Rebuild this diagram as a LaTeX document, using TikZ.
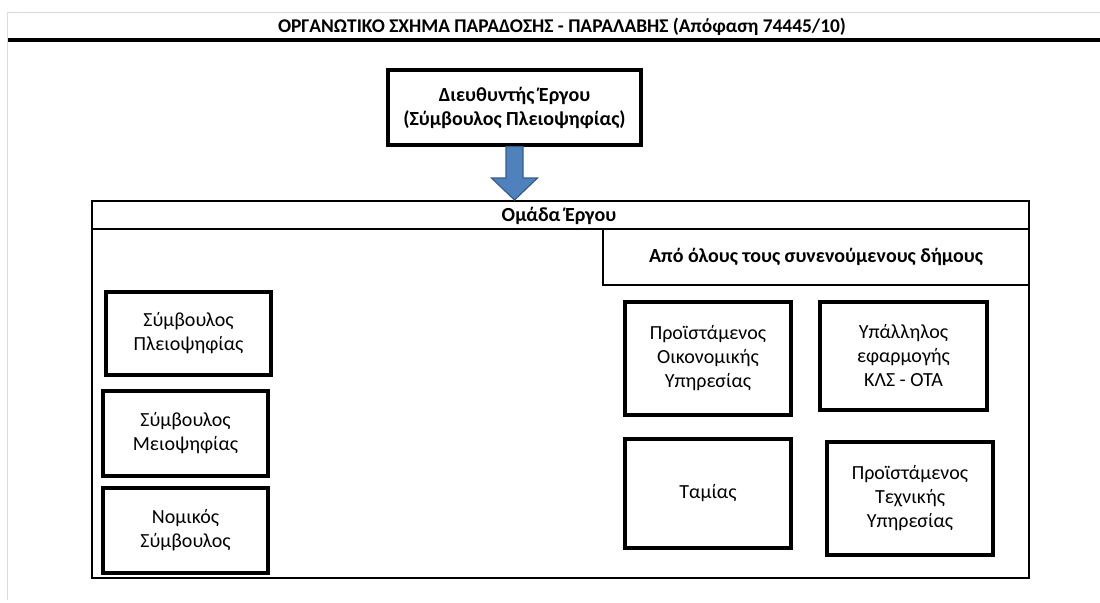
\documentclass[tikz,border=0pt]{standalone}
\usepackage{fontspec}
\setmainfont{Carlito}
\usetikzlibrary{calc}
\definecolor{gridgray}{RGB}{214,220,234}
\definecolor{arrowblue}{RGB}{79,129,189}
\definecolor{arrowedge}{RGB}{56,93,138}
\tikzset{
  boxA/.style={draw=black, line width=1.6pt, fill=white, align=center, inner sep=0pt,
    font=\fontsize{10}{12}\selectfont},
  boxB/.style={draw=black, line width=1pt, inner sep=0pt, align=center,
    font=\bfseries\fontsize{10}{12}\selectfont},
}
\newcommand{\pw}[1]{#1*0.5pt}
\begin{document}
\begin{tikzpicture}[x=0.5pt, y=-0.5pt]
\useasboundingbox (0,0) rectangle (1100,602);
% sheet grid lines
\draw[gridgray, line width=0.8pt] (1100,12.5) -- (7.5,12.5) -- (7.5,600);
\draw[black, line width=1.6pt] (8,40) -- (1100,40);
\node[font=\bfseries\fontsize{9.7}{12}\selectfont, inner sep=0pt] (title) at (562,27)
  {ΟΡΓΑΝΩΤΙΚΟ ΣΧΗΜΑ ΠΑΡΑΔΟΣΗΣ - ΠΑΡΑΛΑΒΗΣ (Απόφαση 74445/10)};

% director
\node[boxA, font=\bfseries\fontsize{10}{12}\selectfont, minimum width=\pw{253}, minimum height=\pw{75}] (dir) at (514.5,107.5)
  {Διευθυντής Έργου\\(Σύμβουλος Πλειοψηφίας)};

% team frame
\node[boxB, minimum width=\pw{937}, minimum height=\pw{349}] (body) at (560.5,403.5) {};
\node[boxB, minimum width=\pw{937}, minimum height=\pw{28}] (team) at (560.5,215) {};
\node[font=\bfseries\fontsize{10}{12}\selectfont, inner sep=0pt] (teamlbl) at (559,216) {Ομάδα Έργου};
\node[boxB, minimum width=\pw{426}, minimum height=\pw{56}] (sub) at (816,257)
  {Από όλους τους συνενούμενους δήμους};

% arrow
\coordinate (tip) at (dir.south |- team.north);
\fill[arrowblue, draw=arrowedge, line width=0.6pt]
  ($(dir.south)+(-8.5,0)$) -- ($(dir.south)+(8.5,0)$) --
  ($(tip)+(8.5,-22)$) -- ($(tip)+(23,-22)$) --
  (tip) --
  ($(tip)+(-23,-22)$) -- ($(tip)+(-8.5,-22)$) -- cycle;

% left column
\node[boxA, minimum width=\pw{165}, minimum height=\pw{83}] (sp) at (188.5,333.5)
  {Σύμβουλος\\Πλειοψηφίας};
\node[boxA, minimum width=\pw{165}, minimum height=\pw{85}] (sm) at (185.5,433.5)
  {Σύμβουλος\\Μειοψηφίας};
\node[boxA, minimum width=\pw{165}, minimum height=\pw{85}] (nom) at (185.5,530.5)
  {Νομικός\\Σύμβουλος};

% right column
\node[boxA, minimum width=\pw{166}, minimum height=\pw{113}] (poy) at (708,358.5)
  {Προϊστάμενος\\Οικονομικής\\Υπηρεσίας};
\node[boxA, minimum width=\pw{167}, minimum height=\pw{108}] (ypal) at (903.5,356)
  {Υπάλληλος\\εφαρμογής\\ΚΛΣ - ΟΤΑ};
\node[boxA, minimum width=\pw{166}, minimum height=\pw{109}] (tam) at (708,493.5)
  {Ταμίας};
\node[boxA, minimum width=\pw{166}, minimum height=\pw{113}] (pty) at (910,498.5)
  {Προϊστάμενος\\Τεχνικής\\Υπηρεσίας};
\end{tikzpicture}
\end{document}
